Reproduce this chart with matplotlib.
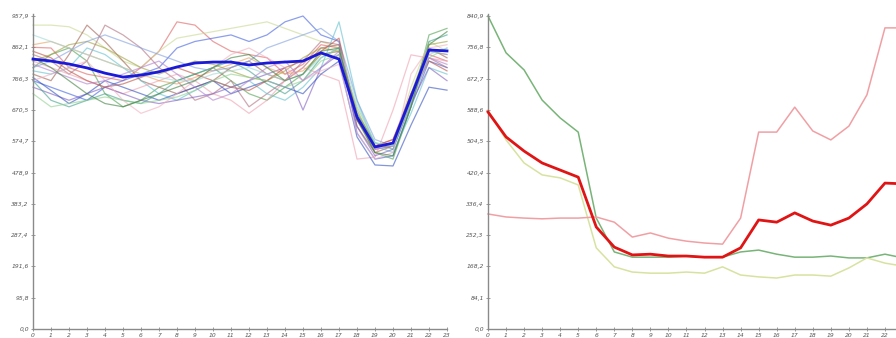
import matplotlib
matplotlib.use("Agg")
import matplotlib.pyplot as plt

hours = list(range(24))

# ---- left panel: individual series (thin) ----
left_series = {
    "#e06060": [862, 860, 800, 780, 770, 760, 800, 850, 940, 930, 880, 850, 840, 830, 780, 810, 870, 860, 640, 560, 580, 700, 840, 820],
    "#4060e0": [760, 740, 720, 700, 740, 760, 780, 800, 860, 880, 890, 900, 880, 900, 940, 957.9, 900, 880, 600, 520, 530, 680, 820, 800],
    "#50a050": [800, 840, 860, 820, 720, 680, 700, 740, 760, 780, 800, 760, 720, 700, 740, 780, 840, 850, 650, 540, 520, 680, 900, 920],
    "#c8d890": [930, 930, 925, 900, 860, 820, 800, 850, 890, 900, 910, 920, 930, 940, 920, 900, 880, 860, 660, 560, 560, 740, 880, 850],
    "#a06050": [780, 760, 840, 930, 880, 820, 760, 740, 720, 740, 760, 800, 820, 780, 760, 800, 860, 870, 620, 540, 560, 700, 860, 830],
    "#b07080": [840, 820, 780, 820, 930, 900, 860, 800, 760, 700, 720, 760, 680, 720, 760, 820, 880, 870, 640, 550, 560, 720, 830, 800],
    "#60c0d0": [790, 780, 800, 860, 840, 800, 760, 720, 700, 730, 760, 740, 760, 720, 700, 740, 800, 940, 700, 560, 540, 660, 800, 780],
    "#f0a0b0": [820, 800, 780, 760, 740, 720, 740, 760, 780, 760, 720, 700, 660, 700, 760, 800, 780, 760, 520, 526, 670, 839, 829, 820],
    "#8060c0": [740, 720, 700, 720, 740, 720, 700, 690, 700, 710, 720, 740, 760, 780, 800, 670, 800, 840, 620, 530, 550, 690, 800, 760],
    "#3050c0": [770, 730, 690, 720, 760, 740, 720, 700, 720, 740, 760, 720, 740, 760, 740, 720, 780, 820, 588, 502, 499, 624, 740, 731],
    "#e8a060": [870, 880, 860, 840, 820, 800, 780, 760, 750, 770, 790, 810, 830, 800, 780, 790, 840, 850, 650, 560, 570, 710, 850, 840],
    "#40a090": [760, 700, 680, 700, 720, 700, 690, 720, 760, 780, 800, 820, 790, 750, 720, 760, 830, 860, 660, 570, 550, 700, 880, 900],
    "#a0a040": [820, 840, 870, 880, 860, 830, 800, 780, 800, 820, 810, 790, 770, 760, 790, 830, 860, 850, 670, 560, 560, 720, 870, 880],
    "#80a0e0": [800, 820, 850, 880, 900, 880, 860, 840, 820, 800, 790, 800, 820, 860, 880, 900, 920, 880, 700, 580, 560, 700, 850, 840],
    "#c05040": [850, 830, 790, 760, 740, 750, 770, 790, 800, 780, 760, 740, 730, 760, 800, 820, 850, 890, 640, 560, 580, 720, 820, 790],
    "#90d090": [720, 680, 690, 700, 710, 700, 690, 700, 710, 730, 760, 780, 770, 760, 740, 760, 820, 840, 680, 570, 560, 690, 830, 860],
    "#f0b0c0": [760, 780, 800, 820, 760, 700, 660, 680, 720, 760, 800, 840, 860, 830, 800, 760, 790, 810, 600, 520, 540, 780, 860, 870],
    "#b080d0": [810, 790, 770, 750, 760, 780, 800, 820, 780, 740, 700, 720, 760, 800, 820, 760, 800, 850, 650, 550, 560, 700, 830, 810],
    "#a0d8d8": [900, 880, 860, 840, 820, 800, 780, 770, 760, 760, 780, 790, 800, 780, 760, 780, 830, 860, 690, 570, 560, 700, 840, 860],
    "#408040": [830, 800, 760, 720, 690, 680, 700, 720, 740, 760, 800, 830, 840, 800, 760, 780, 850, 860, 640, 540, 530, 680, 870, 910],
}
left_mean = [826, 820, 811, 799, 783, 771, 777, 787, 802, 814, 817, 817, 808, 814, 817, 820, 845, 826, 649, 557, 569, 710, 854, 851]
left_max = 957.9

# ---- right panel ----
right_green = [840.9, 742, 696, 615, 567, 529, 298, 207, 193, 193, 193, 196, 193, 193, 207, 212, 201, 193, 193, 196, 191, 191, 201, 191]
right_pink = [309, 301, 298, 296, 298, 298, 301, 287, 247, 258, 244, 236, 231, 228, 298, 529, 529, 596, 532, 508, 545, 629, 809, 809]
right_yellow = [588, 508, 446, 414, 406, 387, 218, 167, 153, 150, 150, 153, 150, 167, 145, 140, 137, 145, 145, 142, 164, 191, 177, 169]
right_mean = [583, 516, 478, 446, 427, 408, 274, 220, 199, 201, 196, 196, 193, 193, 218, 293, 287, 312, 290, 279, 298, 336, 392, 390]
right_max = 840.9
right_visible_hours = list(range(23))

W, H = 896, 338
fig = plt.figure(figsize=(W / 100, H / 100), dpi=100)
fig.patch.set_facecolor("white")

ax1 = fig.add_axes([33 / W, 9 / H, 414 / W, 313 / H])
ax2 = fig.add_axes([488 / W, 9 / H, 415 / W, 313 / H])


def fmt(v):
    return ("%.1f" % v).replace(".", ",")


def style(ax, ymax, xt):
    ax.set_xlim(0, 23)
    ax.set_ylim(0, ymax)
    for s in ("top", "right"):
        ax.spines[s].set_visible(False)
    for s in ("left", "bottom"):
        ax.spines[s].set_color("#8a8a8a")
        ax.spines[s].set_linewidth(1.0)
    ax.spines["left"].set_bounds(0, ymax * 1.005)
    yt = [ymax * k / 10 for k in range(11)]
    ax.set_yticks(yt)
    ax.set_yticklabels([fmt(v) for v in yt])
    ax.set_xticks(xt)
    ax.set_xticklabels([str(h) for h in xt])
    ax.tick_params(axis="both", direction="inout", length=3, width=0.6,
                   color="#8a8a8a", labelsize=4.3, labelcolor="#555555", pad=1.5)
    ax.patch.set_alpha(0)
    for lab in ax.get_xticklabels() + ax.get_yticklabels():
        lab.set_fontstyle("italic")


for color, vals in left_series.items():
    ax1.plot(hours, vals, color=color, lw=0.9, alpha=0.6, clip_on=False)
ax1.plot(hours, left_mean, color="#1a1ad8", lw=2.0, clip_on=False, zorder=5)
style(ax1, left_max, hours)

ax2.plot(hours, right_green, color="#78b478", lw=1.1, clip_on=False)
ax2.plot(hours, right_yellow, color="#d8e2a0", lw=1.1, clip_on=False)
ax2.plot(hours, right_pink, color="#f0a0a4", lw=1.1, clip_on=False)
ax2.plot(hours, right_mean, color="#e01414", lw=2.0, clip_on=False, zorder=5)
style(ax2, right_max, right_visible_hours)

fig.savefig("out.png", dpi=100, facecolor="white")
